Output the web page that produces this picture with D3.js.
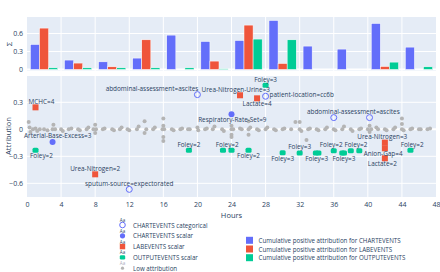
<!DOCTYPE html>
<html><head><meta charset="utf-8">
<script src="https://cdn.jsdelivr.net/npm/d3@7"></script>
<style>body{margin:0;background:#fff}svg{display:block;font-family:"Open Sans",sans-serif}</style>
</head><body><svg id="c" width="440" height="272"></svg>
<script>
// ---------- DATA ----------
const hourTicks = [0,4,8,12,16,20,24,28,32,36,40,44,48];
const barTicks = [0,0.3,0.6];
const attrTicks = [0.3,0,-0.3,-0.6];
const groups = ["0-4","4-8","8-12","12-16","16-20","20-24","24-28","28-32","32-36","36-40","40-44","44-48"];
const seriesNames = ["CHARTEVENTS","LABEVENTS","OUTPUTEVENTS"];
const chartCum = [0.417,0.157,0.128,0.19,0.573,0.467,0.483,0.817,0.39,0.34,0.767,0.373];
const labCum   = [0.69,0.107,0.045,0.495,0,0.14,0.74,0.1,0,0,0.05,0];
const outCum   = [0.028,0.028,0.028,0.028,0.028,0.012,0.507,0.495,0,0,0.123,0.045];

// scatter points: [hour, attribution]
const chartCat = [[20,0.385],[12,-0.667],[28,0.367],[36,0.13],[40.2,0.13]];
const chartScalar = [[3,-0.14],[24,0.167]];
const labScalar = [[1,0.244],[8,-0.5],[25,0.378],[27,0.344],[42,-0.148],[42,-0.211],[42,-0.322]];
const outScalar = [[1,-0.233],[19,-0.233],[23,-0.233],[24,-0.233],[26,-0.233],[28,0.49],[30,-0.26],[32,-0.263],
  [33.9,-0.263],[34.2,-0.263],[36,-0.237],[37,-0.263],[37.2,-0.263],[38,-0.237],[39,-0.237],[45,-0.233]];
const lowAttr = [[0.2,0.08],[0.3,0.02],[0.4,-0.03],[0.7,0],[1,0.01],[1.2,-0.02],[1.5,0],[2,0],[2.4,-0.01],[3,0],[3.1,0.05],
  [3.3,0],[4,0],[4.2,-0.02],[4.9,0],[5.2,0.01],[6,0],[6.2,-0.01],[7,0],[7.2,0.02],[7.8,0],[8,0.05],[8,-0.04],[8.1,0],
  [8.9,0],[9.1,0.01],[10,0],[10.2,-0.01],[10.9,0],[11.1,0.02],[11.8,0],[12,-0.01],[12.9,0],[13.1,0.03],[13.8,0.09],
  [13.8,-0.04],[14,0],[14.8,0],[15,0.02],[15.9,0],[16,0.12],[16,-0.085],[16,-0.13],[16,0.04],[16.1,0],[17,0],[17.2,-0.01],
  [18,0],[18.2,0.01],[18.9,0],[19.1,0],[20,0.02],[20.1,-0.01],[20.9,0],[21.1,0.01],[21.8,0],[22,0.03],[22.9,0],[23.1,-0.02],
  [24,0],[24,-0.06],[24,-0.085],[24,0.04],[24.2,0],[25,0.01],[25.2,0],[26,0],[26,0.09],[26,-0.06],[26.2,0.02],[27,0],
  [27.2,-0.01],[28,0],[28.2,0.02],[29,0],[29.2,-0.01],[30,0],[30.2,0.01],[31,0],[31.5,0.08],[32,0.08],[32,0],[32.2,-0.02],
  [32.8,-0.12],[33,0],[33.2,0.01],[34,0],[34.2,-0.01],[35,0],[35.2,0.02],[36,0],[36.2,-0.01],[37,0],[37.2,0.03],[38,0],
  [38.2,-0.02],[39,0],[39.2,0.01],[40,0],[40.2,0.04],[40.2,-0.03],[40.4,0],[41,0.02],[41.2,0],[42,0],[42.2,-0.01],[43,0],
  [43.2,0.02],[44,0],[44,0.12],[44,0.06],[44.2,-0.01],[45,0],[45.2,0.01],[46,0],[46.2,0],[47,0],[47.3,0.01]];

// labels: [text, anchor hour, anchor attribution, position]
const labels = [
  ["abdominal-assessment=ascites",20,0.385,"topleft"],
  ["sputum-source=expectorated",12,-0.667,"top"],
  ["patient-location=cc6b",28,0.367,"right"],
  ["abdominal-assessment=ascites",38.3,0.13,"top"],
  ["Arterial-Base-Excess=3",3.6,-0.14,"top"],
  ["Respiratory-Rate-Set=9",24.1,0.167,"bottom"],
  ["MCHC=4",1.7,0.244,"top"],
  ["Urea-Nitrogen=2",8,-0.5,"top"],
  ["Urea-Nitrogen-Urine=3",24.5,0.378,"top"],
  ["Lactate=4",27,0.344,"bottom"],
  ["Urea-Nitrogen=3",41.7,-0.148,"top"],
  ["Anion-Gap=4",41.8,-0.211,"bottom"],
  ["Lactate=2",41.7,-0.322,"bottom"],
  ["Foley=2",1.7,-0.233,"bottom"],
  ["Foley=2",19,-0.233,"top"],
  ["Foley=2",23.5,-0.233,"top"],
  ["Foley=2",26,-0.233,"bottom"],
  ["Foley=3",28,0.49,"top"],
  ["Foley=3",30,-0.26,"bottom"],
  ["Foley=3",32,-0.263,"top"],
  ["Foley=3",34,-0.263,"bottom"],
  ["Foley=2",35.7,-0.237,"top"],
  ["Foley=3",37.2,-0.263,"bottom"],
  ["Foley=2",38.6,-0.237,"top"],
  ["Foley=2",45.2,-0.233,"top"]
];
const legendLeft = ["CHARTEVENTS categorical","CHARTEVENTS scalar","LABEVENTS scalar","OUTPUTEVENTS scalar","Low attribution"];
const legendRight = ["Cumulative positive attribution for CHARTEVENTS","Cumulative positive attribution for LABEVENTS","Cumulative positive attribution for OUTPUTEVENTS"];

// ---------- STYLE ----------
const BLUE="#636EFA", RED="#EF553B", GREEN="#00CC96", GRAY="#b4b4b4", BG="#E5ECF6", TXT="#2a3f5f";
const colors=[BLUE,RED,GREEN];
const svg=d3.select("#c");
const L=27,R=436, bT=17,bB=71, sT=76,sB=197;

const x=d3.scaleLinear().domain([0,48]).range([L,R]);
const yb=d3.scaleLinear().domain([-0.025,0.875]).range([bB,bT]);
const ys=d3.scaleLinear().domain([-0.752,0.592]).range([sB,sT]);

// backgrounds
svg.append("rect").attr("x",L).attr("y",bT).attr("width",R-L).attr("height",bB-bT).attr("fill",BG);
svg.append("rect").attr("x",L).attr("y",sT).attr("width",R-L).attr("height",sB-sT).attr("fill",BG);

function grid(y0,y1,yscale,yt){
  const g=svg.append("g");
  g.selectAll(".v").data(hourTicks.slice(1,-1)).join("line")
    .attr("x1",d=>x(d)).attr("x2",d=>x(d)).attr("y1",y0).attr("y2",y1)
    .attr("stroke","#fff").attr("stroke-width",1);
  g.selectAll(".h").data(yt).join("line")
    .attr("x1",L).attr("x2",R).attr("y1",d=>yscale(d)).attr("y2",d=>yscale(d))
    .attr("stroke","#fff").attr("stroke-width",d=>d===0?2:1);
}
grid(bT,bB,yb,barTicks);
grid(sT,sB,ys,attrTicks);

// y axes
function yAxis(scale,ticks){
  const ax=d3.axisLeft(scale).tickValues(ticks).tickSize(0).tickPadding(4)
    .tickFormat(d=>d===0?"0":d3.format(".1f")(d).replace("-","\u2212"));
  const g=svg.append("g").attr("transform",`translate(${L},0)`).call(ax);
  g.select(".domain").remove();
  g.selectAll("text").attr("fill",TXT).attr("font-size",7).attr("font-family","Open Sans");
}
yAxis(yb,barTicks); yAxis(ys,attrTicks);
// x axis
const xa=svg.append("g").attr("transform",`translate(0,${sB})`)
  .call(d3.axisBottom(x).tickValues(hourTicks).tickSize(0).tickPadding(5));
xa.select(".domain").remove();
xa.selectAll("text").attr("fill",TXT).attr("font-size",7).attr("font-family","Open Sans");

svg.append("text").attr("x",(L+R)/2).attr("y",215).attr("text-anchor","middle").attr("dominant-baseline","central")
  .attr("fill",TXT).attr("font-size",7.5).text("Hours");
svg.append("text").attr("transform","translate(8,136) rotate(-90)").attr("text-anchor","middle").attr("dominant-baseline","central")
  .attr("fill",TXT).attr("font-size",7.5).text("Attribution");
svg.append("text").attr("transform","translate(8,44) rotate(-90)").attr("text-anchor","middle").attr("dominant-baseline","central")
  .attr("fill",TXT).attr("font-size",8).text("\u03A3");

// bars
const gx=d3.scaleBand().domain(groups).range([L,R]).paddingInner(0.2).paddingOuter(0.1);
const sx=d3.scaleBand().domain(seriesNames).range([0,gx.bandwidth()]);
const barData=[chartCum,labCum,outCum];
barData.forEach((arr,si)=>{
  svg.append("g").selectAll("rect").data(arr.map((v,i)=>({g:groups[i],v})).filter(d=>d.v>0)).join("rect")
    .attr("x",d=>gx(d.g)+sx(seriesNames[si])).attr("width",sx.bandwidth())
    .attr("y",d=>yb(d.v)).attr("height",d=>yb(0)-yb(d.v))
    .attr("fill",colors[si]).attr("stroke","#fff").attr("stroke-width",0.5);
});

// scatter
const sc=svg.append("g");
sc.selectAll(".low").data(lowAttr).join("circle").attr("cx",d=>x(d[0])).attr("cy",d=>ys(d[1])).attr("r",2)
  .attr("fill",GRAY);
sc.selectAll(".cc").data(chartCat).join("circle").attr("cx",d=>x(d[0])).attr("cy",d=>ys(d[1])).attr("r",3)
  .attr("fill","none").attr("stroke",BLUE).attr("stroke-width",1);
sc.selectAll(".cs").data(chartScalar).join("circle").attr("cx",d=>x(d[0])).attr("cy",d=>ys(d[1])).attr("r",3)
  .attr("fill",BLUE);
sc.selectAll(".ls").data(labScalar).join("rect").attr("x",d=>x(d[0])-3).attr("y",d=>ys(d[1])-3)
  .attr("width",6).attr("height",6).attr("fill",RED);
sc.selectAll(".os").data(outScalar).join("rect").attr("x",d=>x(d[0])-3).attr("y",d=>ys(d[1])-2.5)
  .attr("width",6).attr("height",5).attr("rx",1.5).attr("fill",GREEN);

// text labels
sc.selectAll(".lab").data(labels).join("text")
  .attr("x",d=>x(d[1])+(d[3]==="right"?4:d[3]==="topleft"?1:0))
  .attr("y",d=>ys(d[2])+(d[3]==="bottom"?5.5:d[3]==="right"?-2:-6))
  .attr("text-anchor",d=>d[3]==="right"?"start":d[3]==="topleft"?"end":"middle")
  .attr("dominant-baseline","central").attr("fill",TXT).attr("font-size",6.4).text(d=>d[0]);

// left legend
const ll=svg.append("g");
legendLeft.forEach((t,i)=>{
  const cy=225+i*10.8, mx=122.5;
  ll.append("text").attr("x",mx).attr("y",cy-5).attr("text-anchor","middle").attr("dominant-baseline","central")
    .attr("font-size",4.5).attr("fill",i===4?"#aab":TXT).text("Aa");
  if(i===0) ll.append("circle").attr("cx",mx).attr("cy",cy).attr("r",2.8).attr("fill","none").attr("stroke",BLUE).attr("stroke-width",1);
  if(i===1) ll.append("circle").attr("cx",mx).attr("cy",cy).attr("r",2.6).attr("fill",BLUE);
  if(i===2) ll.append("rect").attr("x",mx-2.7).attr("y",cy-2.7).attr("width",5.4).attr("height",5.4).attr("fill",RED);
  if(i===3) ll.append("rect").attr("x",mx-2.7).attr("y",cy-2.2).attr("width",5.4).attr("height",4.4).attr("rx",1.3).attr("fill",GREEN);
  if(i===4) ll.append("circle").attr("cx",mx).attr("cy",cy).attr("r",1.6).attr("fill",GRAY);
  ll.append("text").attr("x",133).attr("y",cy).attr("dominant-baseline","central").attr("font-size",6.2).attr("fill",TXT).text(t);
});
// right legend
const rl=svg.append("g");
legendRight.forEach((t,i)=>{
  const cy=240.3+i*8.7;
  rl.append("rect").attr("x",246).attr("y",cy-3.5).attr("width",7).attr("height",7).attr("fill",colors[i]);
  rl.append("text").attr("x",258.5).attr("y",cy).attr("dominant-baseline","central").attr("font-size",6.2).attr("fill",TXT).text(t);
});
</script></body></html>
